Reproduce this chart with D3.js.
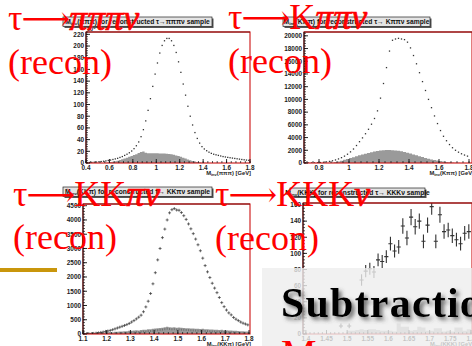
<!DOCTYPE html>
<html><head><meta charset="utf-8">
<script src="https://cdn.jsdelivr.net/npm/d3@7"></script>
<style>html,body{margin:0;padding:0;background:#fff;overflow:hidden}</style>
</head><body>
<svg id="c" width="472" height="346"></svg>
<script>
// ---- tau -> pi pi pi nu : 0.02 GeV bins from 0.40 (units of 10^3 events)
const p1Lo = 0.40, p1W = 0.02;
const p1Signal = [0.5,0.8,1,1.3,1.6,2,2.5,3,3.6,4.3,5,6,7,8,9.5,11,13,15,17.5,20.5,24.5,29.5,36,45,57,72,90,110,131,152,171,188,201,209,213,213,209,201,189,173,155,135,116,97,80,65,52,42,34,28,24,21,18.5,16.5,15,14,13,12,11,10.3,9.6,9,8.4,7.8,7.2,6.6,6,5.5,5,4.5];
const p1Bkg = [0,0,0,0,0,0,0,0,0.5,1,1.5,2.2,3,4,5,6.3,7.6,9,10.5,12,13.5,15,17,19,19.5,17.5,16.5,16.5,16.5,16.5,16.5,16.4,16.3,16.2,16,15.5,15,14,13,12,10.5,9,7.5,6,4.8,3.6,2.6,1.8,1.1,0.6,0.3,0,0,0,0,0,0,0,0,0,0,0,0,0,0,0,0,0,0,0];
const p1XTicks = [0.4,0.6,0.8,1,1.2,1.4,1.6,1.8];
const p1YTicks = [0,20,40,60,80,100,120,140,160,180,200,220];

// ---- tau -> K pi pi nu : 0.02 GeV bins from 0.70
const p2Lo = 0.70, p2W = 0.02;
const p2Signal = [0,0,10,20,40,70,110,170,250,350,480,640,840,1080,1380,1750,2200,2750,3350,3950,4600,5300,6100,7000,8200,10200,12500,15000,17600,19300,19500,19600,19500,19400,19000,18100,16900,15600,14200,12800,11400,10000,8700,7400,6200,5100,4200,3500,2900,2400,2000,1700,1450,1250,1080];
const p2Bkg = [0,0,0,0,0,0,0,0,30,80,150,250,370,500,640,780,920,1060,1200,1340,1470,1590,1700,1800,1880,1950,2000,2030,2040,2020,1980,1920,1840,1740,1620,1490,1350,1210,1070,930,800,680,570,470,380,300,230,170,120,80,50,30,15,5,0];
const p2XTicks = [0.8,1,1.2,1.4,1.6,1.8];
const p2YTicks = [0,2000,4000,6000,8000,10000,12000,14000,16000,18000,20000];

// ---- tau -> K K pi nu : 0.01 GeV bins from 1.10
const p3Lo = 1.10, p3W = 0.01;
const p3Signal = [5,8,12,15,20,30,40,55,70,90,105,125,150,180,210,240,270,300,330,370,420,470,530,590,660,780,950,1150,1420,1760,2150,2600,3000,3380,3680,4000,4250,4360,4400,4350,4340,4260,4150,4020,3860,3690,3520,3330,3130,2920,2660,2400,2180,1980,1780,1610,1450,1280,1100,960,840,740,670,580,520,470,420,380,350,320];
const p3Bkg = [10,15,20,25,30,35,40,50,45,55,60,70,65,80,75,90,85,100,95,110,115,120,130,125,140,150,145,165,170,180,190,200,210,220,235,250,240,230,235,220,225,215,210,205,200,195,190,185,180,175,180,170,165,160,155,150,145,140,145,135,130,125,120,115,110,105,100,95,90,85];
const p3XTicks = [1.1,1.2,1.3,1.4,1.5,1.6,1.7,1.8];
const p3YTicks = [0,500,1000,1500,2000,2500,3000,3500,4000,4500];

// ---- tau -> K K K nu : measured points with errors, background in 0.01 GeV bins from 1.39
const p4X = [1.485,1.505,1.535,1.545,1.555,1.565,1.575,1.585,1.595,1.605,1.615,1.625,1.635,1.645,1.655,1.665,1.675,1.685,1.695,1.705,1.715,1.725,1.735,1.745,1.755,1.765,1.775,1.785,1.795];
const p4Y = [10,10,67,78,81,77,92,90,96,112,103,108,134,119,145,133,140,115,135,158,115,148,127,129,122,117,112,125,127];
const p4Err = [3,3,7,7.5,7.5,7.5,8,8,8,8.5,8,8.5,9.5,9,10,9.5,9.5,8.5,9.5,10,8.5,10,9,9,9,8.5,8.5,9,9];
const p4Lo = 1.39, p4W = 0.01;
const p4Bkg = [0,0,0,0,0,0,0,0,0,0,0,4,4,5,6,5,6,6,5,4,4,4,3,13,9,9,4,5,9,8,4,4,7,7,3,4,3,8,8,4,6,5];
const p4XTicks = [1.4,1.45,1.5,1.55,1.6,1.65,1.7,1.75,1.8];
const p4YTicks = [0,20,40,60,80,100,120,140,160];

// decay-mode captions: [parent, kaons, pions + neutrino]
const captionHeads = [['τ','','πππν'], ['τ','K','ππν'], ['τ','KK','πν'], ['τ','KKK','ν']];

const svg = d3.select('#c');
const defs = svg.append('defs');
const sh = defs.append('filter').attr('id','shadow').attr('x','-10%').attr('y','-20%').attr('width','130%').attr('height','160%');
sh.append('feDropShadow').attr('dx',3).attr('dy',3).attr('stdDeviation',2)
  .attr('flood-color','#444').attr('flood-opacity',0.75);

const SANS = "'Liberation Sans', Arial, sans-serif";
const SERIF = "'Liberation Serif', 'Times New Roman', serif";

function fmt(v){ return String(+v.toFixed(3)); }

function drawPanel(cfg){
  const g = svg.append('g');
  const {l,r,t,b} = cfg.frame;
  const x = d3.scaleLinear().domain(cfg.xDom).range([l, cfg.xRangeEnd]);
  const y = d3.scaleLinear().domain(cfg.yDom).range([b, t]);
  const clipId = 'clip' + cfg.id;
  defs.append('clipPath').attr('id', clipId).append('rect')
    .attr('x', l).attr('y', t).attr('width', r - l).attr('height', b - t);

  g.append('rect').attr('x', l).attr('y', t).attr('width', r - l).attr('height', b - t)
    .attr('fill', '#fff');

  const inner = g.append('g').attr('clip-path', `url(#${clipId})`);

  // shaded background histogram
  if (cfg.bkg){
    const pts = cfg.bkg.map((v,i)=>({x: cfg.bkgLo + i*cfg.bkgW, v}));
    pts.push({x: cfg.bkgLo + cfg.bkg.length*cfg.bkgW, v: cfg.bkg[cfg.bkg.length-1]});
    const area = d3.area().curve(d3.curveStepAfter)
      .x(d=>x(d.x)).y0(y(0)).y1(d=>y(d.v));
    inner.append('path').attr('d', area(pts)).attr('fill', cfg.bkgColor || '#9a9a9a');
    if (cfg.bkgErr){
      inner.selectAll(null).data(cfg.bkg).enter().append('line')
        .attr('x1',(d,i)=>x(cfg.bkgLo+(i+0.5)*cfg.bkgW)).attr('x2',(d,i)=>x(cfg.bkgLo+(i+0.5)*cfg.bkgW))
        .attr('y1',d=>y(Math.max(0,d-cfg.bkgErr))).attr('y2',d=>y(Math.max(0,d-cfg.bkgErr))+2)
        .attr('stroke','#555').attr('stroke-width',0.6);
    }
  }

  // signal markers
  if (cfg.signal){
    const cx = (i)=>x(cfg.sigLo + (i+0.5)*cfg.sigW);
    if (cfg.marker === 'dot'){
      inner.selectAll(null).data(cfg.signal).enter().append('rect')
        .attr('x',(d,i)=>cx(i)-0.65).attr('y',d=>y(d)-0.65)
        .attr('width',1.3).attr('height',1.3).attr('fill','#333');
    } else {
      const s = 1.5;
      inner.selectAll(null).data(cfg.signal).enter().append('path')
        .attr('d',(d,i)=>`M${cx(i)-s},${y(d)}H${cx(i)+s}M${cx(i)},${y(d)-s}V${y(d)+s}`)
        .attr('stroke','#333').attr('stroke-width',0.7).attr('fill','none');
    }
  }
  if (cfg.points){
    const hw = 0.005;
    inner.selectAll(null).data(cfg.points.x).enter().append('path')
      .attr('d',(d,i)=>{
        const px = x(d), py = y(cfg.points.y[i]);
        const e = cfg.points.err[i];
        return `M${x(d-hw)},${py}H${x(d+hw)}M${px},${y(cfg.points.y[i]-e)}V${y(cfg.points.y[i]+e)}`;
      })
      .attr('stroke','#333').attr('stroke-width',1.1).attr('fill','none');
  }

  // frame
  g.append('rect').attr('x', l).attr('y', t).attr('width', r - l).attr('height', b - t)
    .attr('fill','none').attr('stroke','#cc1111').attr('stroke-width',1.1);
  g.append('line').attr('x1',l).attr('x2',r).attr('y1',t).attr('y2',t)
    .attr('stroke','#7a1010').attr('stroke-width',1.2);

  // y axis (ticks inside the frame)
  const yMajorStep = cfg.yTicks[1]-cfg.yTicks[0];
  const yMinor = d3.range(0, cfg.yDom[1]+1e-9, yMajorStep/5);
  const yAx = g.append('g');
  yAx.append('line').attr('x1',l).attr('x2',l).attr('y1',b).attr('y2',t).attr('stroke','#111').attr('stroke-width',1);
  yAx.selectAll(null).data(yMinor).enter().append('line')
    .attr('x1',l).attr('x2',l+2).attr('y1',d=>y(d)).attr('y2',d=>y(d)).attr('stroke','#111').attr('stroke-width',0.7);
  yAx.selectAll(null).data(cfg.yTicks).enter().append('line')
    .attr('x1',l).attr('x2',l+4).attr('y1',d=>y(d)).attr('y2',d=>y(d)).attr('stroke','#111').attr('stroke-width',0.9);
  yAx.selectAll(null).data(cfg.yTicks).enter().append('text')
    .attr('x',l-2).attr('y',d=>y(d)+2.3).attr('text-anchor','end')
    .attr('font-family',SANS).attr('font-weight','bold').attr('font-size',6.4).attr('fill','#222')
    .text(d=>fmt(d));

  // x axis
  const xMajorStep = cfg.xTicks[1]-cfg.xTicks[0];
  const xMinor = d3.range(cfg.xTicks[0]-xMajorStep, cfg.xDom[1]+1e-9, xMajorStep/5).filter(v=>v>=cfg.xDom[0]-1e-9);
  const xAx = g.append('g');
  xAx.selectAll(null).data(xMinor).enter().append('line')
    .attr('x1',d=>x(d)).attr('x2',d=>x(d)).attr('y1',b).attr('y2',b-2).attr('stroke','#111').attr('stroke-width',0.7);
  xAx.selectAll(null).data(cfg.xTicks).enter().append('line')
    .attr('x1',d=>x(d)).attr('x2',d=>x(d)).attr('y1',b).attr('y2',b-4).attr('stroke','#111').attr('stroke-width',0.9);
  xAx.selectAll(null).data(cfg.xTicks).enter().append('text')
    .attr('x',d=>x(d)).attr('y',b+7).attr('text-anchor','middle')
    .attr('font-family',SANS).attr('font-weight','bold').attr('font-size',6.4).attr('fill','#222')
    .text(d=>fmt(d));

  // axis title
  const at = g.append('text').attr('x', cfg.axisTitleX).attr('y', b+12).attr('text-anchor','end')
    .attr('font-family',SANS).attr('font-weight','bold').attr('font-size',5.8).attr('fill','#222');
  at.append('tspan').text('M');
  at.append('tspan').attr('font-size',4).attr('dy',1.2).text('inv');
  at.append('tspan').attr('dy',-1.2).text(cfg.axisTitle);

  if (cfg.exponent){
    const ex = g.append('text').attr('x', l+1).attr('y', t-1.5)
      .attr('font-family',SANS).attr('font-weight','bold').attr('font-size',5.5).attr('fill','#222');
    ex.append('tspan').text('10');
    ex.append('tspan').attr('font-size',4).attr('dy',-2).text('3');
  }

  // title box
  const tb = cfg.titleBox;
  g.append('rect').attr('x',tb.x+1.5).attr('y',tb.y+1.5).attr('width',tb.w).attr('height',tb.h).attr('fill','#555');
  g.append('rect').attr('x',tb.x).attr('y',tb.y).attr('width',tb.w).attr('height',tb.h)
    .attr('fill','#e4e4e4').attr('stroke','#222').attr('stroke-width',0.7);
  const tt = g.append('text').attr('x',tb.x+tb.w/2).attr('y',tb.y+tb.h/2+2.4).attr('text-anchor','middle')
    .attr('font-family',SANS).attr('font-weight','bold').attr('font-size',6.7).attr('fill','#111');
  tt.append('tspan').text('M');
  tt.append('tspan').attr('font-size',4.4).attr('dy',1.3).text('inv');
  tt.append('tspan').attr('dy',-1.3).text(cfg.title);
}

drawPanel({id:1, frame:{l:86,r:250,t:32,b:163}, xDom:[0.4,1.8], xRangeEnd:250, yDom:[0,224],
  xTicks:p1XTicks, yTicks:p1YTicks, bkg:p1Bkg, bkgLo:p1Lo, bkgW:p1W,
  signal:p1Signal, sigLo:p1Lo, sigW:p1W, marker:'dot', exponent:true,
  axisTitle:'(πππ) [GeV]', axisTitleX:251,
  title:'(πππ) for reconstructed τ→πππν sample', titleBox:{x:63,y:17,w:149,h:9.5}});

drawPanel({id:2, frame:{l:304,r:472,t:32,b:163}, xDom:[0.7,1.82], xRangeEnd:472, yDom:[0,20600],
  xTicks:p2XTicks, yTicks:p2YTicks, bkg:p2Bkg, bkgLo:p2Lo, bkgW:p2W,
  signal:p2Signal, sigLo:p2Lo, sigW:p2W, marker:'dot',
  axisTitle:'(Kππ) [GeV]', axisTitleX:474,
  title:'(Kππ) for reconstructed τ→ Kππν sample', titleBox:{x:283,y:17,w:147,h:9.5}});

drawPanel({id:3, frame:{l:83,r:250,t:204,b:334}, xDom:[1.1,1.8], xRangeEnd:249, yDom:[0,4560],
  xTicks:p3XTicks, yTicks:p3YTicks, bkg:p3Bkg, bkgLo:p3Lo, bkgW:p3W, bkgErr:30,
  signal:p3Signal, sigLo:p3Lo, sigW:p3W, marker:'cross',
  axisTitle:'(KKπ) [GeV]', axisTitleX:251,
  title:'(KKπ) for reconstructed τ→ KKπν sample', titleBox:{x:63,y:187,w:149,h:9.5}});

drawPanel({id:4, frame:{l:303,r:472,t:203,b:334}, xDom:[1.393,1.81], xRangeEnd:475, yDom:[0,162.5],
  xTicks:p4XTicks, yTicks:p4YTicks, bkg:p4Bkg, bkgLo:p4Lo, bkgW:p4W, bkgColor:'#b4b4b4',
  points:{x:p4X, y:p4Y, err:p4Err},
  axisTitle:'(KKK) [GeV]', axisTitleX:474,
  title:'(KKK) for reconstructed τ→ KKKν sample', titleBox:{x:290,y:188,w:135,h:8.5}});

// red decay-mode captions
const capPos = [{x:8,y:30,ry:74},{x:228,y:29,ry:73},{x:13,y:206,ry:249},{x:215,y:206,ry:250}];
captionHeads.forEach((c,i)=>{
  const p = capPos[i];
  const t = svg.append('text').attr('x',p.x).attr('y',p.y).attr('font-family',SERIF)
    .attr('font-size',36).attr('fill','#ff0000');
  t.append('tspan').text(c[0]);
  t.append('tspan').attr('font-family',"'DejaVu Serif', serif").attr('font-size',34).attr('dx',-1).text('⟶');
  if (c[1]) t.append('tspan').attr('dx',-1).text(c[1]);
  t.append('tspan').attr('font-style','italic').attr('stroke','#ff0000').attr('stroke-width',0.7)
    .attr('dx', c[1] ? 0 : -1).text(c[2]);
  svg.append('text').attr('x',p.x).attr('y',p.ry).attr('font-family',SERIF)
    .attr('font-size',36).attr('fill','#ff0000').text('(recon)');
});

// accent bar
svg.append('rect').attr('x',0).attr('y',268).attr('width',57).attr('height',4).attr('fill','#c9960c');

// translucent overlay with heading
svg.append('rect').attr('x',262).attr('y',268).attr('width',210).attr('height',78)
  .attr('fill','#eeeeee').attr('fill-opacity',0.8);
svg.append('text').attr('x',281).attr('y',317).attr('font-family',SERIF).attr('font-weight','bold')
  .attr('font-size',42).attr('letter-spacing',1.2).attr('fill','#000').attr('filter','url(#shadow)').text('Subtraction');
svg.append('text').attr('x',281).attr('y',367).attr('font-family',SERIF)
  .attr('font-size',40).attr('fill','#ff0000').text('M');
</script></body></html>
